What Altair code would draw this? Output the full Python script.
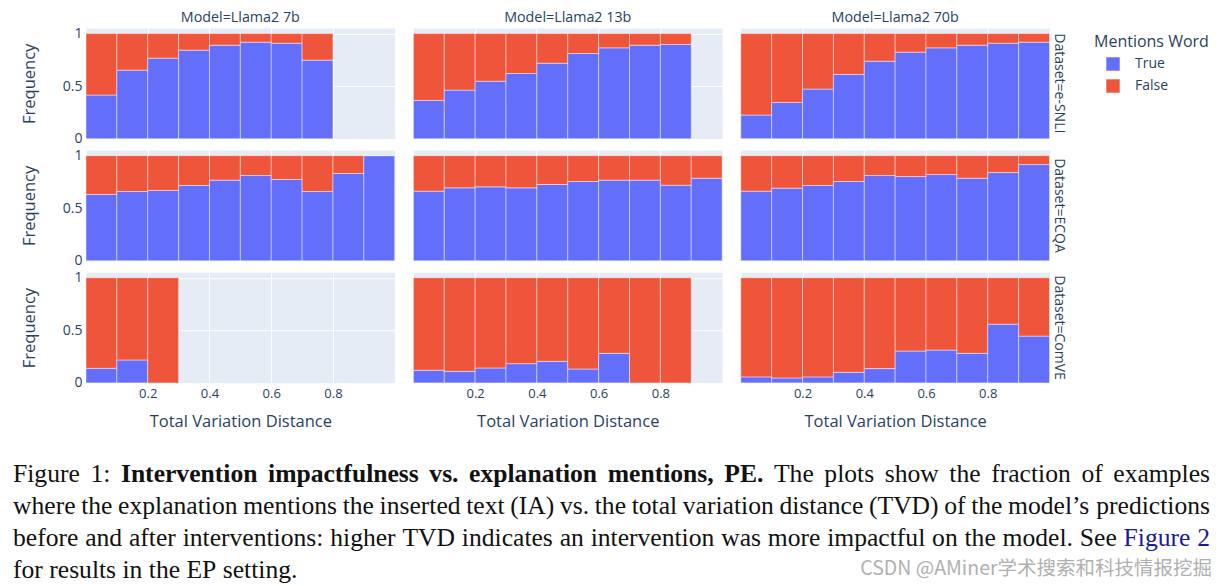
import altair as alt
import pandas as pd

models = ["Llama2 7b", "Llama2 13b", "Llama2 70b"]
datasets = ["e-SNLI", "ECQA", "ComVE"]
bin_starts = [0.0, 0.1, 0.2, 0.3, 0.4, 0.5, 0.6, 0.7, 0.8, 0.9]
bin_width = 0.1

# fraction of examples whose explanation mentions the word (None = empty bin)
esnli_7b = [0.415, 0.652, 0.766, 0.842, 0.889, 0.918, 0.908, 0.747, None, None]
esnli_13b = [0.364, 0.462, 0.547, 0.620, 0.718, 0.810, 0.864, 0.889, 0.896, None]
esnli_70b = [0.225, 0.345, 0.472, 0.611, 0.737, 0.823, 0.864, 0.889, 0.908, 0.918]
ecqa_7b = [0.631, 0.659, 0.669, 0.716, 0.767, 0.811, 0.773, 0.659, 0.830, 1.0]
ecqa_13b = [0.662, 0.694, 0.703, 0.694, 0.726, 0.754, 0.767, 0.767, 0.719, 0.785]
ecqa_70b = [0.662, 0.691, 0.716, 0.754, 0.811, 0.801, 0.820, 0.785, 0.839, 0.915]
comve_7b = [0.139, 0.218, 0.0, None, None, None, None, None, None, None]
comve_13b = [0.120, 0.110, 0.142, 0.183, 0.205, 0.132, 0.281, 0.0, 0.0, None]
comve_70b = [0.057, 0.047, 0.057, 0.101, 0.136, 0.303, 0.312, 0.281, 0.558, 0.445]

series = [
    ("e-SNLI", "Llama2 7b", esnli_7b), ("e-SNLI", "Llama2 13b", esnli_13b), ("e-SNLI", "Llama2 70b", esnli_70b),
    ("ECQA", "Llama2 7b", ecqa_7b), ("ECQA", "Llama2 13b", ecqa_13b), ("ECQA", "Llama2 70b", ecqa_70b),
    ("ComVE", "Llama2 7b", comve_7b), ("ComVE", "Llama2 13b", comve_13b), ("ComVE", "Llama2 70b", comve_70b),
]

records = []
for ds, m, vals in series:
    for b, v in zip(bin_starts, vals):
        if v is None:
            continue
        e = round(b + bin_width, 2)
        records.append(dict(Dataset=ds, Model=m, start=b, end=e, Mentions="True", y0=0.0, y1=v))
        records.append(dict(Dataset=ds, Model=m, start=b, end=e, Mentions="False", y0=v, y1=1.0))
df = pd.DataFrame(records)

TXT = "#2a3f5f"
FONT = "Open Sans"

bars = alt.Chart(df).mark_bar(stroke="white", strokeWidth=1, strokeOpacity=0.45).encode(
    x=alt.X("start:Q", scale=alt.Scale(domain=[0, 1], nice=False, zero=False),
            axis=alt.Axis(values=[0.2, 0.4, 0.6, 0.8], format=".1f", title="Total Variation Distance",
                          labelFontSize=13, labelPadding=3, titleFontSize=16.5, titlePadding=13)),
    x2="end:Q",
    y=alt.Y("y0:Q", scale=alt.Scale(domain=[0, 1.0526], nice=False),
            axis=alt.Axis(values=[0, 0.5, 1], format="~g", title="Frequency",
                          labelFontSize=14, labelPadding=3, titleFontSize=16.5, titlePadding=24.5)),
    y2="y1:Q",
    color=alt.Color("Mentions:N", scale=alt.Scale(domain=["True", "False"], range=["#636EFA", "#EF553B"]),
                    legend=alt.Legend(title="Mentions Word", orient="none", legendX=1008, legendY=6)),
).properties(width=308.7, height=110.7)

facet = bars.facet(
    column=alt.Column("Model:N", sort=models,
                      header=alt.Header(title=None, labelExpr="'Model=' + datum.value", labelFontSize=14.3,
                                        labelColor=TXT, labelFont=FONT, labelPadding=2)),
    row=alt.Row("Dataset:N", sort=datasets,
                header=alt.Header(title=None, labelExpr="'Dataset=' + datum.value", labelAngle=90,
                                  labelOrient="right", labelFontSize=14, labelColor=TXT, labelFont=FONT,
                                  labelPadding=1)),
    spacing={"row": 9.1, "column": 16.4},
)

# ---- caption text: (word, style) per line; lines 1-3 are justified ----
caption_lines = [
    [("Figure", "n"), ("1:", "n"), ("Intervention", "b"), ("impactfulness", "b"), ("vs.", "b"),
     ("explanation", "b"), ("mentions,", "b"), ("PE.", "b"), ("The", "n"), ("plots", "n"), ("show", "n"),
     ("the", "n"), ("fraction", "n"), ("of", "n"), ("examples", "n")],
    [(w, "n") for w in "where the explanation mentions the inserted text (IA) vs. the total variation distance (TVD) of the model\u2019s predictions".split(" ")],
    [(w, "n") for w in "before and after interventions: higher TVD indicates an intervention was more impactful on the model. See".split(" ")]
    + [("Figure", "l"), ("2", "l")],
    [(w, "n") for w in "for results in the EP setting.".split(" ")],
]
justified = [True, True, True, False]
watermark = "CSDN @AMiner\u5b66\u672f\u641c\u7d22\u548c\u79d1\u6280\u60c5\u62a5\u6316\u6398"

# Times font advance widths (1/1000 em), used to lay out justified words
_roman = {" ": 250, ",": 250, ".": 250, ":": 278, "(": 333, ")": 333, "\u2019": 333, "1": 500, "2": 500,
          "A": 722, "D": 722, "E": 611, "F": 556, "I": 333, "P": 556, "S": 556, "T": 611, "V": 722,
          "a": 444, "b": 500, "c": 444, "d": 500, "e": 444, "f": 333, "g": 500, "h": 500, "i": 278,
          "j": 278, "k": 500, "l": 278, "m": 778, "n": 500, "o": 500, "p": 500, "q": 500, "r": 333,
          "s": 389, "t": 278, "u": 500, "v": 500, "w": 722, "x": 500, "y": 500, "z": 444}
_bold = {" ": 250, ",": 250, ".": 250, ":": 333, "E": 667, "I": 389, "P": 611,
         "a": 500, "b": 556, "c": 444, "d": 556, "e": 444, "f": 333, "g": 500, "h": 556, "i": 278,
         "l": 278, "m": 833, "n": 556, "o": 500, "p": 556, "r": 444, "s": 389, "t": 333, "u": 556,
         "v": 500, "x": 500}
FS = 25.6
LEFT, RIGHT = 12, 1209
BASELINES = [481, 513, 545, 577]
PANEL_X, PANEL_Y = 85, 27  # caption coordinates are relative to the first panel's corner


def wwidth(word, style):
    table = _bold if style == "b" else _roman
    return sum(table.get(ch, 500) for ch in word) * FS / 1000.0


cap_rows = []
for line, just, base in zip(caption_lines, justified, BASELINES):
    widths = [wwidth(w, s) for w, s in line]
    space = 250 * FS / 1000.0
    if just:
        space = (RIGHT - LEFT - sum(widths)) / (len(line) - 1)
    x = LEFT
    for (w, s), wd in zip(line, widths):
        cap_rows.append(dict(word=w, style=s, x=x - PANEL_X, y=base - PANEL_Y))
        x += wd + space
cap_df = pd.DataFrame(cap_rows)

SERIF = "Liberation Serif"


def words(style, weight, color):
    return alt.Chart(cap_df).transform_filter(alt.datum.style == style).mark_text(
        align="left", baseline="alphabetic", font=SERIF, fontSize=FS, fontWeight=weight, color=color
    ).encode(x=alt.X("x:Q", scale=None), y=alt.Y("y:Q", scale=None), text="word:N")


wm = alt.Chart(pd.DataFrame({"t": [watermark]})).mark_text(
    align="right", baseline="alphabetic", font="Noto Sans CJK SC", fontSize=19.5, color="#b0b0b0"
).encode(x=alt.value(1211 - PANEL_X), y=alt.value(574 - PANEL_Y), text="t:N")

caption = alt.layer(
    words("n", "normal", "#111111"),
    words("b", "bold", "#111111"),
    words("l", "normal", "#1a1a9c"),
    wm,
).properties(width=1, height=1, view=alt.ViewBackground(fill="transparent", stroke="transparent"))

chart = alt.vconcat(facet, caption, spacing=0, bounds="flush").properties(
    padding={"left": 12, "top": 10, "right": 5, "bottom": 2}, background="white"
).configure_view(fill="#E5ECF6", stroke="transparent").configure_axis(
    grid=True, gridColor="white", gridWidth=1, domain=False, ticks=False,
    labelColor=TXT, titleColor=TXT, labelFont=FONT, titleFont=FONT, titleFontWeight="normal"
).configure_legend(
    titleFontSize=16, titleFontWeight="normal", titleColor=TXT, titleFont=FONT,
    labelFontSize=14, labelColor=TXT, labelFont=FONT, symbolType="square", symbolSize=180,
    symbolStrokeWidth=0, rowPadding=8, titlePadding=7, labelOffset=15, symbolOffset=12
)

chart.save("out.html", embed_options={"renderer": "svg", "actions": False})
